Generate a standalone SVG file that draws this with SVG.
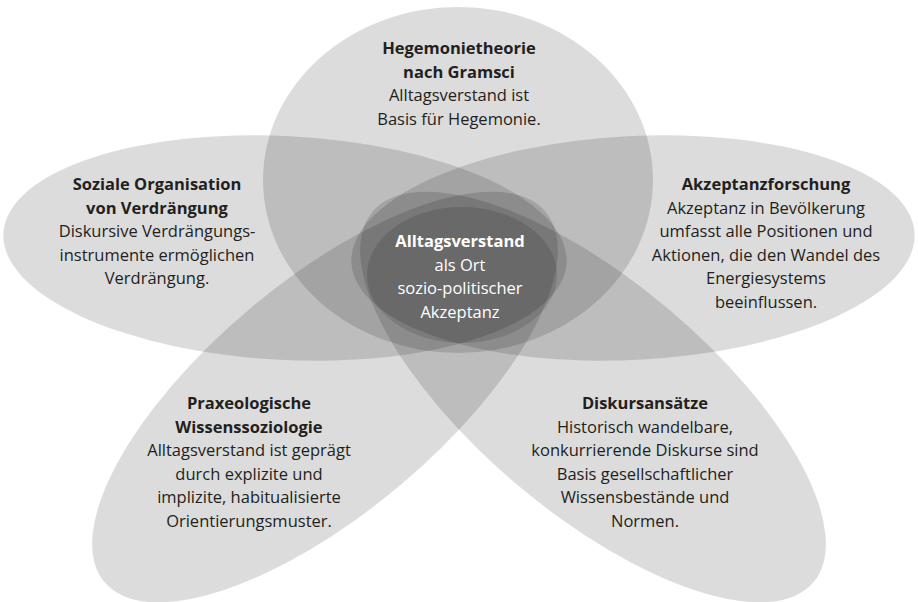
<svg xmlns="http://www.w3.org/2000/svg" width="918" height="602" viewBox="0 0 918 602">
<style>
.petal{fill:#000;fill-opacity:0.137}
.core{fill:#000;fill-opacity:0.12}
text{font-family:"Open Sans","Liberation Sans",sans-serif;font-size:16.5px;fill:#231f20;text-anchor:middle}
.b{font-weight:bold}
.w{fill:#fff}
</style>
<rect width="918" height="602" fill="#fff"/>
<g id="hegemonie">
<ellipse class="petal" cx="458" cy="180" rx="195" ry="173"/>
<text x="459" y="54" class="b">Hegemonietheorie</text>
<text x="459" y="77.5" class="b">nach Gramsci</text>
<text x="459" y="101">Alltagsverstand ist</text>
<text x="459" y="124.5">Basis für Hegemonie.</text>
</g>
<g id="verdraengung">
<ellipse class="petal" cx="285" cy="248" rx="282" ry="112" transform="rotate(3 285 248)"/>
<text x="157" y="190" class="b">Soziale Organisation</text>
<text x="157" y="213.5" class="b">von Verdrängung</text>
<text x="157" y="237">Diskursive Verdrängungs-</text>
<text x="157" y="260.5">instrumente ermöglichen</text>
<text x="157" y="284">Verdrängung.</text>
</g>
<g id="akzeptanz">
<ellipse class="petal" cx="633" cy="248" rx="282" ry="112" transform="rotate(-3 633 248)"/>
<text x="766" y="190" class="b">Akzeptanzforschung</text>
<text x="766" y="213.5">Akzeptanz in Bevölkerung</text>
<text x="766" y="237">umfasst alle Positionen und</text>
<text x="766" y="260.5">Aktionen, die den Wandel des</text>
<text x="766" y="284">Energiesystems</text>
<text x="766" y="307.5">beeinflussen.</text>
</g>
<g id="praxeologie">
<ellipse class="petal" cx="325" cy="397" rx="288" ry="116" transform="rotate(-40 325 397)"/>
<text x="249" y="409" class="b">Praxeologische</text>
<text x="249" y="432.5" class="b">Wissenssoziologie</text>
<text x="249" y="456">Alltagsverstand ist geprägt</text>
<text x="249" y="479.5">durch explizite und</text>
<text x="249" y="503">implizite, habitualisierte</text>
<text x="249" y="526.5">Orientierungsmuster.</text>
</g>
<g id="diskurs">
<ellipse class="petal" cx="593" cy="397" rx="288" ry="116" transform="rotate(40 593 397)"/>
<text x="645" y="409" class="b">Diskursansätze</text>
<text x="645" y="432.5">Historisch wandelbare,</text>
<text x="645" y="456">konkurrierende Diskurse sind</text>
<text x="645" y="479.5">Basis gesellschaftlicher</text>
<text x="645" y="503">Wissensbestände und</text>
<text x="645" y="526.5">Normen.</text>
</g>
<g id="alltagsverstand">
<ellipse class="core" cx="462" cy="275" rx="95" ry="68"/>
<text x="460" y="247" class="b w">Alltagsverstand</text>
<text x="460" y="270.5" class="w">als Ort</text>
<text x="460" y="294" class="w">sozio-politischer</text>
<text x="460" y="317.5" class="w">Akzeptanz</text>
</g>
<g id="connectors"/>
</svg>
